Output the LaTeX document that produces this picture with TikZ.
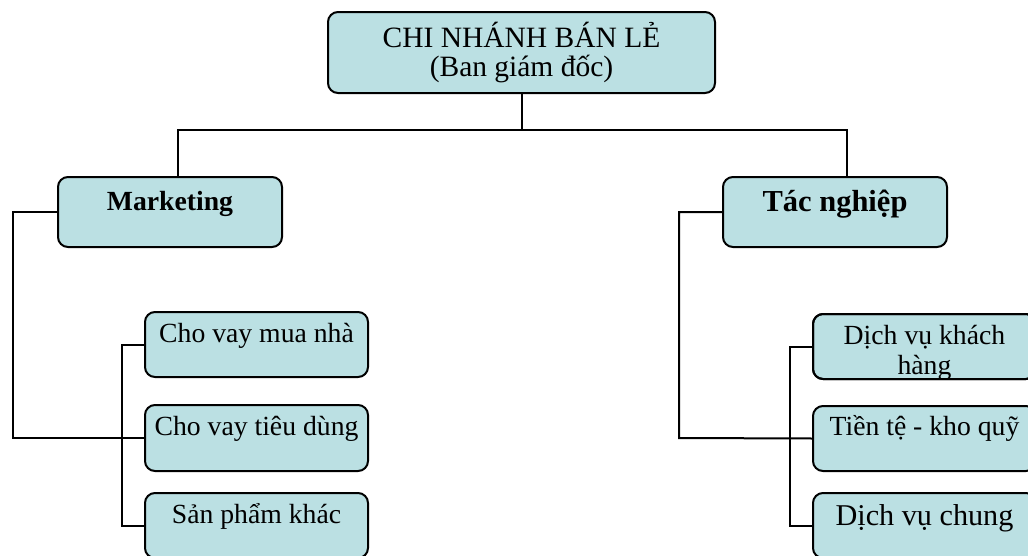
\documentclass[tikz,border=0pt]{standalone}
\usepackage{fontspec}
\setmainfont{Liberation Serif}
\usetikzlibrary{calc}
\definecolor{boxfill}{HTML}{BBE0E3}
\tikzset{
  orgbox/.style={draw=black, fill=boxfill, line width=2pt, rounded corners=10pt,
                 inner sep=0pt, outer sep=0pt},
  wire/.style={draw=black, line width=2pt},
  lbl/.style={anchor=base, inner sep=0pt, font=\fontsize{27.7}{30}\selectfont},
}
\begin{document}
\begin{tikzpicture}[x=1pt, y=1pt]
  \useasboundingbox (0,0) rectangle (1028,-555);
  \clip (0,0) rectangle (1028,-555);

  % bus and bracket corner points
  \coordinate (busL) at (178,-130);
  \coordinate (busR) at (847,-130);
  \coordinate (mL) at (13,-438);
  \coordinate (bL) at (122,0);
  \coordinate (tL) at (679,-438);
  \coordinate (bR) at (790,0);

  % boxes
  \node[orgbox, minimum width=387pt, minimum height=81pt] (top) at (521.5,-52.5) {};
  \node[orgbox, minimum width=224pt, minimum height=70pt] (mkt) at (170,-212) {};
  \node[orgbox, minimum width=224pt, minimum height=70pt] (tac) at (835,-212) {};
  \node[orgbox, minimum width=223pt, minimum height=65pt] (c1) at (256.5,-344.5) {};
  \node[orgbox, minimum width=223pt, minimum height=66pt] (c2) at (256.5,-438) {};
  \node[orgbox, minimum width=223pt, minimum height=65pt] (c3) at (256.5,-525.5) {};
  \node[orgbox, minimum width=223pt, minimum height=65pt] (c4) at (924.5,-346.5) {};
  \node[orgbox, minimum width=223pt, minimum height=65pt] (c5) at (924.5,-438.5) {};
  \node[orgbox, minimum width=223pt, minimum height=65pt] (c6) at (924.5,-525.5) {};

  % connectors
  \draw[wire] (top.south) -- (top.south |- busL);
  \draw[wire] (busL |- mkt.north) -- (busL) -- (busR) -- (busR |- tac.north);
  \draw[wire] (mkt.west) -| (mL) -- (c2.west);
  \draw[wire] (c1.west) -- (c1.west -| bL) -- (c3.west -| bL) -- (c3.west);
  \draw[wire] (tac.west) -| (tL) -- (c5.west);
  \draw[wire] (c4.west) -- (c4.west -| bR) -- (c6.west -| bR) -- (c6.west);

  % labels
  \node[lbl, font=\fontsize{29.5}{28}\selectfont] at ($(top.north)+(0,-35)$)
    {\begin{tabular}[t]{@{}c@{}}CHI NHÁNH BÁN LẺ\\(Ban giám đốc)\end{tabular}};
  \node[lbl, font=\fontsize{27.7}{30}\selectfont\bfseries] at ($(mkt.north)+(0,-33)$) {Marketing};
  \node[lbl, font=\fontsize{30.5}{32}\selectfont\bfseries] at ($(tac.north)+(0,-34)$) {Tác nghiệp};
  \node[lbl] at ($(c1.north)+(0,-30)$) {Cho vay mua nhà};
  \node[lbl] at ($(c2.north)+(0,-30)$) {Cho vay tiêu dùng};
  \node[lbl] at ($(c3.north)+(0,-30)$) {Sản phẩm khác};
  \begin{scope}
    \clip[rounded corners=10pt] (c4.north west) rectangle (c4.south east);
    \node[lbl] at ($(c4.north)+(0,-30)$)
      {\begin{tabular}[t]{@{}c@{}}Dịch vụ khách\\hàng\end{tabular}};
  \end{scope}
  \draw[orgbox, fill=none] (c4.north west) rectangle (c4.south east);
  \node[lbl] at ($(c5.north)+(0,-29)$) {Tiền tệ - kho quỹ};
  \node[lbl, font=\fontsize{30.2}{32}\selectfont] at ($(c6.north)+(0,-32)$) {Dịch vụ chung};
\end{tikzpicture}
\end{document}
